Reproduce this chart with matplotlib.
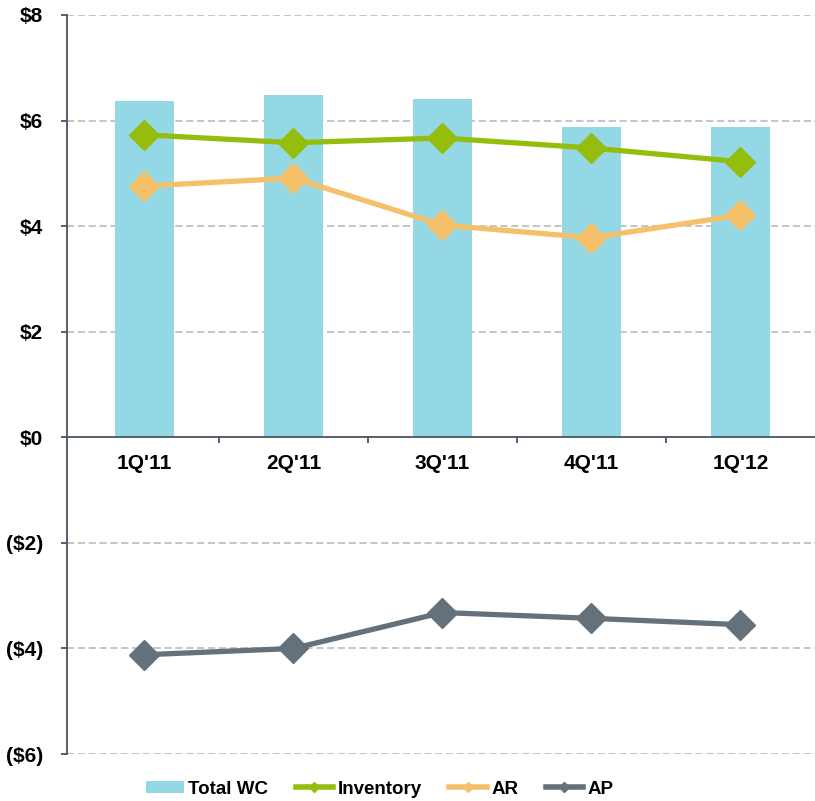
import matplotlib
matplotlib.use("Agg")
import matplotlib.pyplot as plt
from matplotlib.ticker import FixedLocator, FuncFormatter
from matplotlib.lines import Line2D
from matplotlib.patches import Patch

categories = ["1Q'11", "2Q'11", "3Q'11", "4Q'11", "1Q'12"]
total_wc = [6.38, 6.49, 6.41, 5.88, 5.88]
inventory = [5.73, 5.58, 5.67, 5.48, 5.22]
ar = [4.76, 4.91, 4.02, 3.78, 4.21]
ap = [-4.12, -4.00, -3.32, -3.43, -3.55]
y_ticks = [-6, -4, -2, 0, 2, 4, 6, 8]

plt.rcParams['font.family'] = ['Liberation Sans', 'DejaVu Sans']
plt.rcParams['font.weight'] = 'bold'

leg_prop = {'family': 'Liberation Sans', 'weight': 'bold', 'size': 13.5}

fig = plt.figure(figsize=(8.15, 8.01), dpi=100)
ax = fig.add_axes([67/815, 47/801, 748/815, 739/801])

x = list(range(len(categories)))
c_bar = '#94D8E6'
c_inv = '#95BD0D'
c_ar = '#F5C06A'
c_ap = '#64717A'
spine_c = '#4A5560'

ax.bar(x, total_wc, width=0.4, color=c_bar, zorder=2)
for vals, col in [(inventory, c_inv), (ar, c_ar), (ap, c_ap)]:
    ax.plot(x, vals, color=col, lw=3.8, marker='D', markersize=15, zorder=3)

ax.set_xlim(-0.52, 4.5)
ax.set_ylim(-6, 8)
ax.yaxis.set_major_locator(FixedLocator(y_ticks))

def fmt(v, pos):
    v = int(round(v))
    return f"${v}" if v >= 0 else f"(${-v})"
ax.yaxis.set_major_formatter(FuncFormatter(fmt))

for yv in y_ticks:
    if yv != 0:
        ax.axhline(yv, color='#C0C0C0', lw=1.3, ls=(0, (4, 2)), zorder=1)

for s in ['top', 'right']:
    ax.spines[s].set_visible(False)
ax.spines['bottom'].set_position(('data', 0))
ax.spines['bottom'].set_color(spine_c)
ax.spines['left'].set_color(spine_c)
ax.spines['bottom'].set_linewidth(1.3)
ax.spines['left'].set_linewidth(1.3)
ax.spines['bottom'].set_zorder(4)

ax.set_xticks(x)
ax.set_xticklabels(categories)
ax.set_xticks([0.5, 1.5, 2.5, 3.5], minor=True)
ax.tick_params(axis='x', which='major', length=0, pad=12, labelsize=15)
ax.tick_params(axis='x', which='minor', length=4, width=1.3, color=spine_c, direction='out')
ax.tick_params(axis='y', length=4, width=1.3, color=spine_c, pad=13, labelsize=15)
for lbl in ax.get_xticklabels() + ax.get_yticklabels():
    lbl.set_fontweight('bold')

handles = [
    Patch(facecolor=c_bar, edgecolor='none'),
    Line2D([], [], color=c_inv, lw=4, marker='D', markersize=5),
    Line2D([], [], color=c_ar, lw=4, marker='D', markersize=5),
    Line2D([], [], color=c_ap, lw=4, marker='D', markersize=5),
]
labels = ['Total WC', 'Inventory', 'AR', 'AP']
fig.legend(handles, labels, loc='center', bbox_to_anchor=(380/815, 1 - 789/801),
           ncol=4, frameon=False, prop=leg_prop,
           handlelength=2.0, handleheight=0.6, handletextpad=0.25, columnspacing=1.45)

fig.savefig('out.png', dpi=100)
